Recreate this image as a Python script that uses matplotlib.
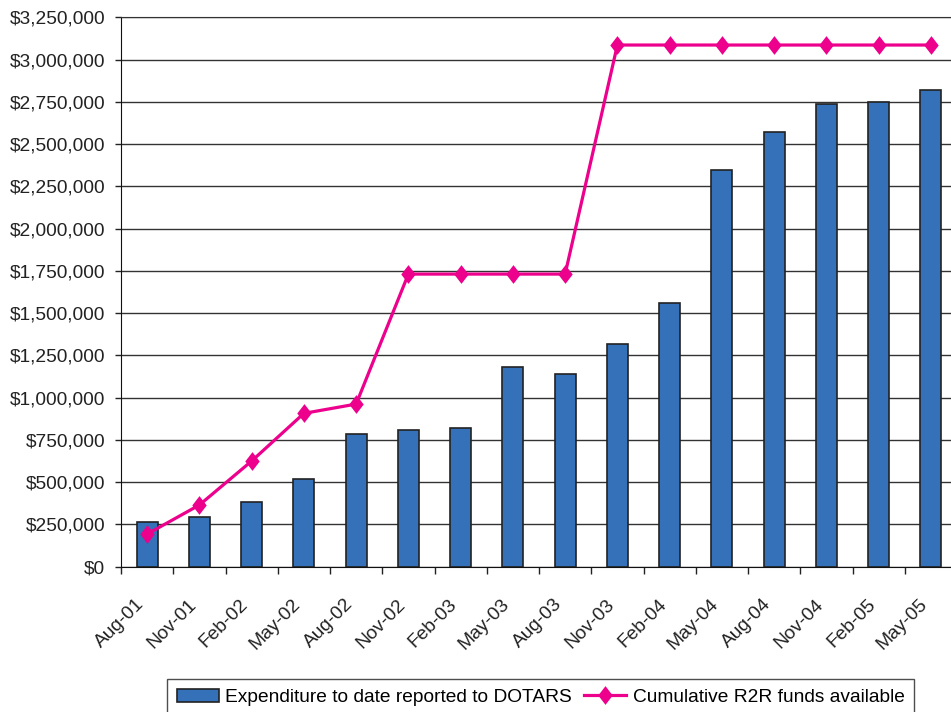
import matplotlib
matplotlib.use("Agg")
import matplotlib.pyplot as plt
import numpy as np
from matplotlib.ticker import FuncFormatter, FixedLocator
from matplotlib.path import Path

plt.rcParams['font.family'] = ['Liberation Sans', 'DejaVu Sans']

categories = ["Aug-01", "Nov-01", "Feb-02", "May-02", "Aug-02", "Nov-02", "Feb-03", "May-03",
              "Aug-03", "Nov-03", "Feb-04", "May-04", "Aug-04", "Nov-04", "Feb-05", "May-05"]
expenditure = [266000, 296000, 380000, 520000, 787000, 807000, 818000, 1180000,
               1138000, 1320000, 1558000, 2347000, 2573000, 2735000, 2747000, 2820000]
funds = [193000, 365000, 625000, 907000, 962000, 1731000, 1731000, 1731000,
         1731000, 3086000, 3086000, 3086000, 3086000, 3086000, 3086000, 3086000]
yticks = list(range(0, 3250001, 250000))

bar_label = "Expenditure to date reported to DOTARS"
line_label = "Cumulative R2R funds available"

W, H = 951, 712
FS = 13.8
fig = plt.figure(figsize=(W / 100, H / 100), dpi=100)
ax = fig.add_axes([121 / W, 1 - 566.7 / H, (957 - 121) / W, (566.7 - 17.3) / H])

x = np.arange(len(categories))
bar_color = "#3571b8"
line_color = "#ec008c"

ax.set_axisbelow(True)
ax.yaxis.grid(True, color="#333333", linewidth=1.0)
bars = ax.bar(x, expenditure, width=0.4, color=bar_color, edgecolor="#222222", linewidth=1.2,
              label=bar_label, zorder=2)

diamond = Path([(0, 1), (0.77, 0), (0, -1), (-0.77, 0), (0, 1)],
               [Path.MOVETO, Path.LINETO, Path.LINETO, Path.LINETO, Path.CLOSEPOLY])
line, = ax.plot(x, funds, color=line_color, linewidth=2.3, marker=diamond, markersize=13.5,
                markeredgewidth=0, label=line_label, zorder=3, clip_on=False)

ax.set_xlim(-0.5, len(categories) - 0.5)
ax.set_ylim(0, 3250000)
ax.set_yticks(yticks)
ax.yaxis.set_major_formatter(FuncFormatter(lambda v, p: "${:,.0f}".format(v)))
ax.tick_params(axis='y', direction='out', length=4.5, width=1, pad=7, labelsize=FS,
               colors="#222222")

ax.set_xticks(x)
ax.set_xticklabels(categories, rotation=45, ha='right', fontsize=FS, color="#222222")
ax.tick_params(axis='x', which='major', length=0, pad=21)
ax.xaxis.set_minor_locator(FixedLocator(np.arange(-0.5, len(categories), 1.0)))
ax.tick_params(axis='x', which='minor', direction='out', length=5, width=1, color="#222222")

ax.spines['right'].set_visible(False)
ax.spines['top'].set_color("#333333")
ax.spines['left'].set_color("#111111")
ax.spines['bottom'].set_color("#111111")

leg = fig.legend(handles=[bars, line], labels=[bar_label, line_label],
                 loc='upper left', bbox_to_anchor=(167 / W, 1 - 679 / H), ncol=2,
                 frameon=True, fancybox=False, edgecolor="#222222", fontsize=FS,
                 handlelength=2.2, handleheight=0.7, handletextpad=0.35, columnspacing=0.6,
                 borderpad=0.5, borderaxespad=0)
leg.get_frame().set_linewidth(1.0)

fig.savefig("out.png", dpi=100)
